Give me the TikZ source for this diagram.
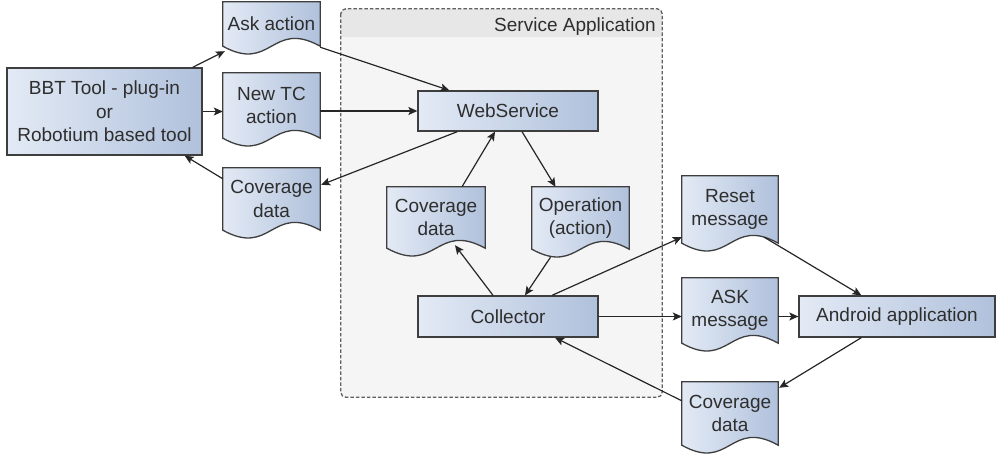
\documentclass[tikz,border=0pt]{standalone}
\usepackage{fontspec}
\setmainfont{Liberation Sans}
\usetikzlibrary{calc,arrows.meta}
\pgfdeclarelayer{bg}\pgfdeclarelayer{docs}\pgfsetlayers{bg,docs,main}
\definecolor{boxl}{HTML}{E3EAF5}
\definecolor{boxr}{HTML}{B0C1DC}
\definecolor{edgec}{HTML}{3E3E3E}
\definecolor{txt}{HTML}{2E2E2E}
\definecolor{contbody}{HTML}{F5F5F5}
\definecolor{conthead}{HTML}{E7E7E7}
\definecolor{contedge}{HTML}{606060}
\tikzset{
  base/.style={font=\fontsize{19}{23.5}\selectfont, text=txt, align=center, inner sep=0pt},
  procbox/.style={base, draw=edgec, line width=1.3pt, left color=boxl, right color=boxr},
  docnode/.style={base, minimum width=97},
  docsty/.style={draw=edgec, line width=1.3pt, left color=boxl, right color=boxr},
  conn/.style={draw=black!85, line width=1.2pt, -{Stealth[length=9pt,width=8pt,inset=2pt]}},
  dashedge/.style={draw=contedge, dash pattern=on 3.5pt off 2pt, line width=1.3pt, rounded corners=5pt},
  container/.style={fill=contbody, rounded corners=5pt, inner sep=0pt}
}
\newcommand\docshape[1]{%
  \draw[docsty] (#1.north west) -- (#1.north east) -- (#1.south east)
    .. controls ($(#1.south)+(0,-27)$) and ($(#1.south)+(0,27)$) .. (#1.south west) -- cycle;}
\begin{document}
\begin{tikzpicture}[x=1pt,y=-1pt]
\useasboundingbox (0,0) rectangle (1008,474);
% container
\begin{pgfonlayer}{bg}
  \node[container, minimum width=321, minimum height=388] (svc) at (501.5,203) {};
  \begin{scope}
    \clip[rounded corners=5pt] (svc.north west) rectangle (svc.south east);
    \fill[conthead] (svc.north west) rectangle ($(svc.north east)+(0,28)$);
  \end{scope}
  \draw[dashedge] (svc.north west) rectangle (svc.south east);
\end{pgfonlayer}
\node[base, anchor=base east] (svclabel) at (656,31) {Service Application};

% process boxes
\node[procbox, minimum width=195, minimum height=87] (bbt) at (104.5,111.5) {BBT Tool - plug-in\\or\\Robotium based tool};
\node[procbox, minimum width=180, minimum height=40] (web) at (508,111) {WebService};
\node[procbox, minimum width=180, minimum height=41] (coll) at (508,316.5) {Collector};
\node[procbox, minimum width=196, minimum height=41] (andr) at (897,316.5) {Android application};

% document nodes
\node[docnode, minimum height=44] (ask) at (271.5,24) {Ask action};
\node[docnode, minimum height=65] (newtc) at (271.5,105.5) {New TC\\action};
\node[docnode, minimum height=62] (cov1) at (271.5,199) {Coverage\\data};
\node[docnode, minimum width=98, minimum height=61] (cov2) at (436,217.5) {Coverage\\data};
\node[docnode, minimum height=62] (oper) at (580.5,218) {Operation\\(action)};
\node[docnode, minimum width=96, minimum height=67] (reset) at (730,209.5) {Reset\\message};
\node[docnode, minimum width=96, minimum height=65] (askm) at (730,310.5) {ASK\\message};
\node[docnode, minimum width=96, minimum height=63] (cov3) at (730,413.5) {Coverage\\data};

\begin{pgfonlayer}{docs}
  \foreach \n in {ask,newtc,cov1,cov2,oper,reset,askm,cov3} {\docshape{\n}}
\end{pgfonlayer}

% connectors
\draw[conn] ($(bbt.north east)+(-10,0)$) -- ($(ask.south west)+(2,5)$);
\draw[conn] (bbt.east) -- (bbt.east -| newtc.west);
\draw[conn] ($(cov1.north west)+(0,11)$) -- ($(bbt.south east)+(-18,0)$);
\draw[conn] ($(ask.south east)+(0,1)$) -- ($(web.north west)+(32,0)$);
\draw[conn] (newtc.east |- web.west) -- (web.west);
\draw[conn] ($(web.south west)+(40,0)$) -- ($(cov1.north east)+(1,17)$);
\draw[conn] ($(cov2.north)+(26,0)$) -- ($(web.south)+(-13,0)$);
\draw[conn] ($(web.south)+(14,0)$) -- ($(oper.north)+(-25,0)$);
\draw[conn] ($(coll.north)+(-15,0)$) -- ($(cov2.south)+(19,-3)$);
\draw[conn] ($(oper.south)+(-30,8)$) -- ($(coll.north)+(17,0)$);
\draw[conn] ($(coll.north)+(44,0)$) -- ($(reset.south west)+(0,-6)$);
\draw[conn] (coll.east) -- (coll.east -| askm.west);
\draw[conn] ($(reset.south east)+(-14,-6)$) -- ($(andr.north west)+(63,0)$);
\draw[conn] (askm.east |- andr.west) -- (andr.west);
\draw[conn] ($(andr.south west)+(63,0)$) -- ($(cov3.north east)+(1,6)$);
\draw[conn] ($(cov3.north west)+(0,19)$) -- ($(coll.south)+(47,0)$);
\end{tikzpicture}
\end{document}
